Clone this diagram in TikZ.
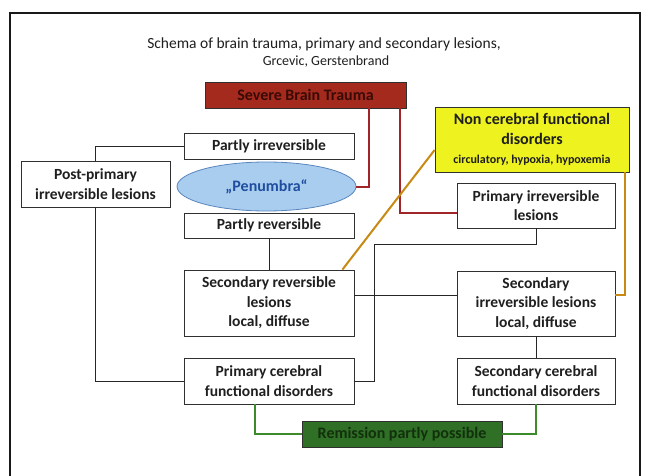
\documentclass[tikz,border=0pt]{standalone}
\usepackage{fontspec}
\setmainfont{Carlito}
\usetikzlibrary{calc,shapes.geometric}
\definecolor{sbtred}{HTML}{A32A1C}
\definecolor{sbttext}{HTML}{3A0A06}
\definecolor{redline}{HTML}{A02528}
\definecolor{goldline}{HTML}{C88A12}
\definecolor{ncfyellow}{HTML}{EEF21E}
\definecolor{penfill}{HTML}{A9CDEF}
\definecolor{penborder}{HTML}{5A86BE}
\definecolor{pentext}{HTML}{1F4E9E}
\definecolor{remfill}{HTML}{2F6F26}
\definecolor{remtext}{HTML}{12300C}
\definecolor{greenline}{HTML}{3C8A2C}
\definecolor{boxline}{HTML}{303030}
\tikzset{
  box/.style={draw=boxline, line width=0.8pt, fill=white, minimum width=#1, inner sep=1pt, align=center, font=\bfseries\fontsize{15.5}{19.5}\selectfont, text=black!88},
  thin/.style={draw=black!85, line width=0.8pt},
  redc/.style={draw=redline, line width=2pt},
  goldc/.style={draw=goldline, line width=2pt},
  greenc/.style={draw=greenline, line width=2pt},
}
\begin{document}
\begin{tikzpicture}[x=1pt,y=-1pt]
\useasboundingbox (0,0) rectangle (645,476);
\fill[white] (0,0) rectangle (645,476);
% frame
\draw[line width=2pt, black!90] (10,476) -- (10,13) -- (640,13) -- (640,476);
% title
\node[font=\fontsize{15.5}{18}\selectfont, text=black!88] (title1) at (324,44) {Schema of brain trauma, primary and secondary lesions,};
\node[font=\fontsize{14}{16}\selectfont, text=black!88] (title2) at (326,62) {Grcevic, Gerstenbrand};
% nodes
\node[box=201pt, minimum height=26pt, fill=sbtred, text=sbttext, font=\bfseries\fontsize{16}{19}\selectfont] (sbt) at (305.5,95) {Severe Brain Trauma};
\node[box=170pt, minimum height=26pt] (pirr) at (269,146) {Partly irreversible};
\node[box=149pt, minimum height=46pt] (post) at (95.5,184) {Post-primary\\irreversible lesions};
\node[ellipse, draw=penborder, line width=0.8pt, fill=penfill, minimum width=179pt, minimum height=49pt, inner sep=0pt, font=\bfseries\fontsize{16}{19}\selectfont, text=pentext] (pen) at (266.5,186.5) {„Penumbra“};
\node[box=170pt, minimum height=25pt] (prev) at (269,225.5) {Partly reversible};
\node[box=194pt, minimum height=65pt, fill=ncfyellow, font=\bfseries\fontsize{16}{20}\selectfont] (ncf) at (532,139.5) {Non cerebral functional\\disorders\\[-1pt]{\fontsize{12}{14}\selectfont circulatory, hypoxia, hypoxemia}};
\node[box=158pt, minimum height=45pt] (pil) at (536,205.5) {Primary irreversible\\lesions};
\node[box=170pt, minimum height=66pt] (srl) at (269,303) {Secondary reversible\\lesions\\local, diffuse};
\node[box=158pt, minimum height=65pt] (sil) at (536,303.5) {Secondary\\irreversible lesions\\local, diffuse};
\node[box=170pt, minimum height=46pt] (pcf) at (269,381) {Primary cerebral\\functional disorders};
\node[box=158pt, minimum height=46pt] (scf) at (536,381) {Secondary cerebral\\functional disorders};
\node[box=200pt, minimum height=26pt, fill=remfill, text=remtext, font=\bfseries\fontsize{16}{19}\selectfont] (rem) at (402,434) {Remission partly possible};
% red connectors
\draw[redc] ($(sbt.south)+(63.5,0)$) |- (pen.east);
\draw[redc] ($(sbt.south)+(94.5,0)$) |- ($(pil.west)+(0,7.5)$);
% thin connectors
\draw[thin] (pirr.west) -| (post.north);
\draw[thin] (post.south) |- (pcf.west);
\draw[thin] (prev.south) -- (srl.north);
\draw[thin] ($(srl.east)+(0,-8)$) -- ($(sil.west)+(0,-8.5)$);
\draw[thin] (pil.south) -- ++(0,16) -| ($(pcf.east)+(20,0)$) -- (pcf.east);
\draw[thin] (sil.south) -- (scf.north);
% gold connectors
\draw[goldc] ($(srl.north east)+(-12,0)$) -- ($(ncf.west)+(0,10.5)$);
\draw[goldc] ($(ncf.south east)+(-4.5,0)$) |- ($(sil.east)+(0,-8.5)$);
% green connectors
\draw[greenc] ($(pcf.south)+(-14,0)$) |- (rem.west);
\draw[greenc] (scf.south) |- (rem.east);
\end{tikzpicture}
\end{document}
